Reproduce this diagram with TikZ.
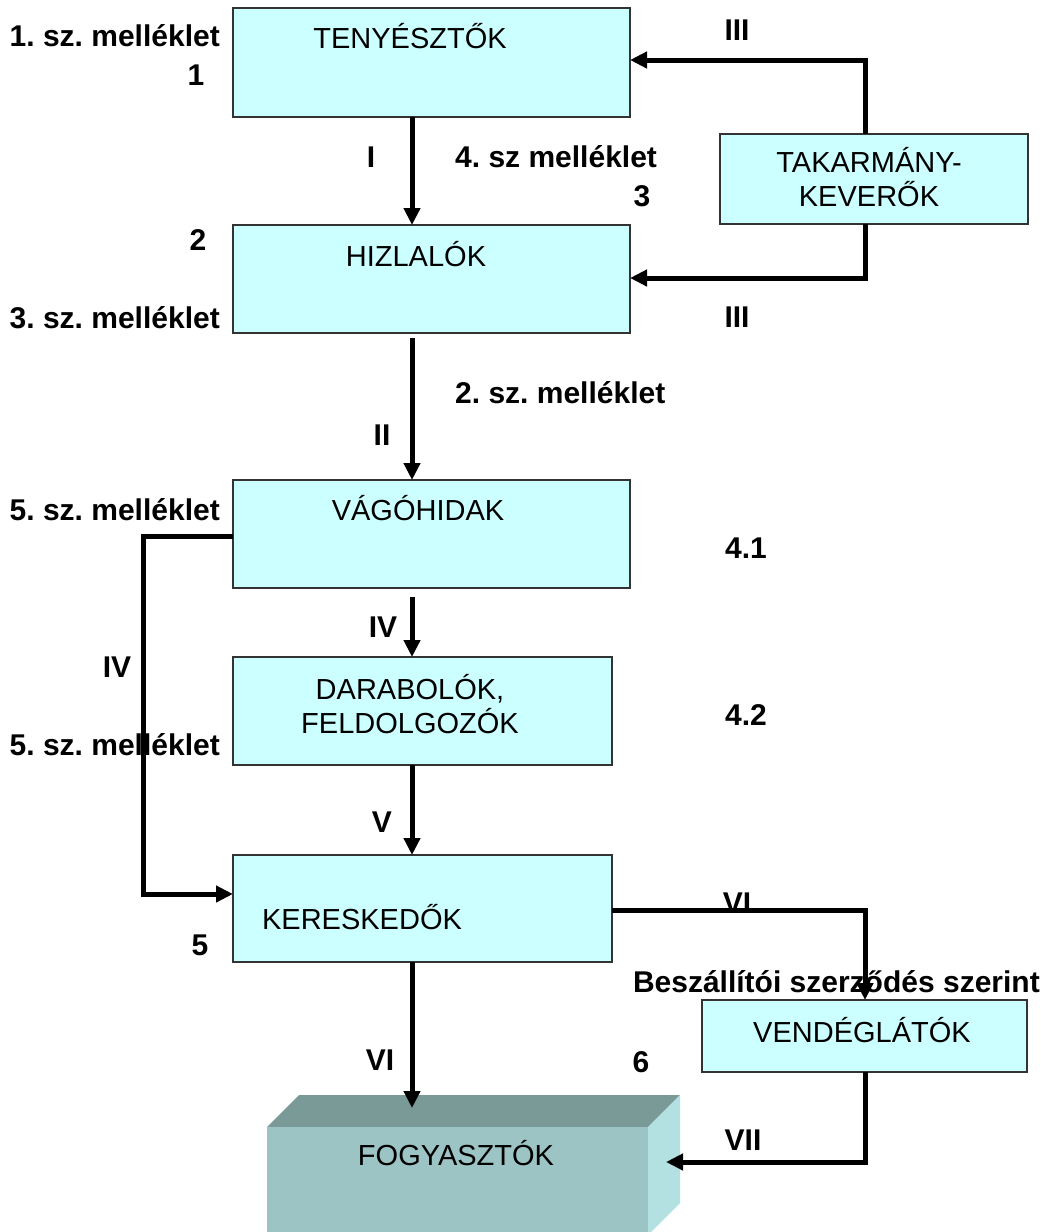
\documentclass[tikz,border=0pt]{standalone}
\usepackage{fontspec}
\setmainfont{Liberation Sans}
\usetikzlibrary{arrows.meta}
\frenchspacing
\definecolor{boxfill}{HTML}{CCFFFF}
\definecolor{boxline}{HTML}{333333}
\definecolor{fogfront}{HTML}{9CC4C4}
\definecolor{fogtop}{HTML}{7A9A98}
\definecolor{fogside}{HTML}{B3E0E0}
\tikzset{
  box/.style={draw=boxline, line width=1.8pt, fill=boxfill, anchor=north west, inner sep=0pt, outer sep=0pt},
  boxtxt/.style={font=\fontsize{29}{34}\selectfont, inner sep=0pt, align=center},
  lbl/.style={font=\fontsize{30}{35}\selectfont\bfseries, inner sep=0pt},
  arr/.style={line width=5pt, -{Triangle[length=17pt,width=16pt]}},
  conn/.style={line width=5pt}
}
\begin{document}
\begin{tikzpicture}[x=1pt,y=-1pt]
\useasboundingbox (0,0) rectangle (1047,1232);
% boxes
\node[box, minimum width=397pt, minimum height=109pt] (ten) at (233,8) {};
\node[box, minimum width=397pt, minimum height=108pt] (hiz) at (233,225) {};
\node[box, minimum width=308pt, minimum height=90pt] (tak) at (720,134) {};
\node[box, minimum width=397pt, minimum height=108pt] (vag) at (233,480) {};
\node[box, minimum width=379pt, minimum height=108pt] (dar) at (233,657) {};
\node[box, minimum width=379pt, minimum height=107pt] (ker) at (233,855) {};
\node[box, minimum width=325pt, minimum height=72pt] (ven) at (702,1000) {};
% 3D consumer box
\fill[fogtop] (267,1127) -- (299,1095) -- (680,1095) -- (648,1127) -- cycle;
\fill[fogside] (648,1127) -- (680,1095) -- (680,1203) -- (648,1235) -- cycle;
\node[anchor=north west, fill=fogfront, inner sep=0pt, outer sep=0pt, minimum width=381pt, minimum height=108pt] (fog) at (267,1127) {};
% box texts
\node[boxtxt] (tent) at (410,36) {TENYÉSZTŐK};
\node[boxtxt] (hizt) at (416,254) {HIZLALÓK};
\node[boxtxt] (takt) at (869,177) {TAKARMÁNY-\\KEVERŐK};
\node[boxtxt] (vagt) at (418,508) {VÁGÓHIDAK};
\node[boxtxt] (dart) at (410,704) {DARABOLÓK,\\FELDOLGOZÓK};
\node[boxtxt] (kert) at (362,917) {KERESKEDŐK};
\node[boxtxt] (vent) at (862,1030) {VENDÉGLÁTÓK};
\node[boxtxt] (fogt) at (456,1153) {FOGYASZTÓK};
% connectors
\coordinate (xI) at (412,0);
\coordinate (c3a) at (865,60);
\coordinate (c3b) at (865,278);
\coordinate (c4a) at (143,536);
\coordinate (c4b) at (143,894);
\coordinate (c6) at (865,910);
\coordinate (c7) at (865,1162);
\draw[arr] (ten.south -| xI) -- (hiz.north -| xI);
\draw[arr] (tak.north -| c3a) -- (c3a) -- (ten.east |- c3a);
\draw[arr] (tak.south -| c3b) -- (c3b) -- (hiz.east |- c3b);
\draw[arr] ([yshift=-5pt]hiz.south -| xI) -- (vag.north -| xI);
\draw[arr] ([yshift=-9pt]vag.south -| xI) -- (dar.north -| xI);
\draw[arr] (vag.west |- c4a) -- (c4a) -- (c4b) -- (ker.west |- c4b);
\draw[arr] (dar.south -| xI) -- (ker.north -| xI);
\draw[arr] (ker.east |- c6) -- (c6) -- (ven.north -| c6);
\draw[arr] (ker.south -| xI) -- ([yshift=19pt]fog.north -| xI);
\draw[arr] (ven.south -| c7) -- (c7) -- ([xshift=18pt]fog.east |- c7);
% labels
\node[lbl, anchor=east] (l1) at (220,36) {1. sz. melléklet};
\node[lbl] (n1) at (196,75) {1};
\node[lbl] (r3a) at (737,30) {III};
\node[lbl] (rI) at (371,157) {I};
\node[lbl, anchor=west] (l4) at (455,157) {4. sz melléklet};
\node[lbl] (n3) at (642,196) {3};
\node[lbl] (n2) at (198,240) {2};
\node[lbl, anchor=east] (l3) at (220,318) {3. sz. melléklet};
\node[lbl] (r3b) at (737,317) {III};
\node[lbl, anchor=west] (l2) at (455,393) {2. sz. melléklet};
\node[lbl] (rII) at (382,435) {II};
\node[lbl, anchor=east] (l5a) at (220,510) {5. sz. melléklet};
\node[lbl] (n41) at (746,548) {4.1};
\node[lbl] (rIVm) at (383,627) {IV};
\node[lbl] (rIVl) at (117,667) {IV};
\node[lbl] (n42) at (746,715) {4.2};
\node[lbl, anchor=east] (l5b) at (220,745) {5. sz. melléklet};
\node[lbl] (rV) at (382,822) {V};
\node[lbl] (rVIa) at (737,903) {VI};
\node[lbl] (n5) at (200,945) {5};
\node[lbl, anchor=east] (lb) at (1040,982) {Beszállítói szerződés szerint};
\node[lbl] (rVIb) at (380,1060) {VI};
\node[lbl] (n6) at (641,1062) {6};
\node[lbl] (rVII) at (743,1140) {VII};
\end{tikzpicture}
\end{document}
